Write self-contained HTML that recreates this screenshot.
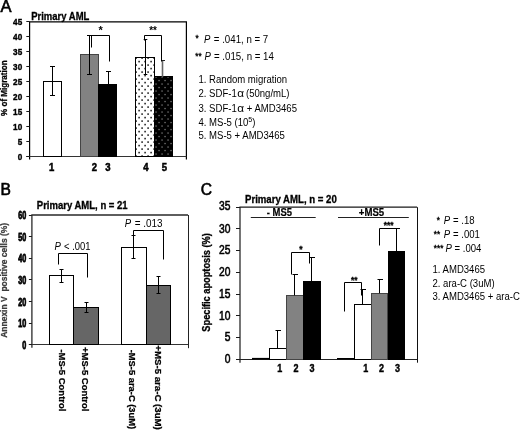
<!DOCTYPE html>
<html><head><meta charset="utf-8"><title>Figure</title>
<style>
html,body{margin:0;padding:0;background:#fff;}
body{width:520px;height:430px;overflow:hidden;}
svg{display:block;font-family:"Liberation Sans",Arial,sans-serif;}
</style></head><body>
<svg width="520" height="430" viewBox="0 0 520 430">
<defs>
<pattern id="dotsW" x="135" y="57" width="6" height="7" patternUnits="userSpaceOnUse">
<rect width="6" height="7" fill="#fff"/>
<rect x="0.3" y="0.3" width="1.6" height="1.6" fill="#262626"/>
<rect x="3.3" y="3.8" width="1.6" height="1.6" fill="#262626"/>
</pattern>
<pattern id="dotsB" x="155" y="76" width="6" height="7" patternUnits="userSpaceOnUse">
<rect width="6" height="7" fill="#000"/>
<rect x="0.4" y="0.4" width="1.3" height="1.3" fill="#7c7c7c"/>
<rect x="3.4" y="3.9" width="1.3" height="1.3" fill="#7c7c7c"/>
</pattern>
</defs>
<rect width="520" height="430" fill="#fff"/>

<text x="0.4" y="12.2" font-size="16.5" stroke="#000" stroke-width="0.6" >A</text>
<text x="31.2" y="20" font-size="10.6" font-weight="bold" textLength="58.2" lengthAdjust="spacingAndGlyphs" stroke="#000" stroke-width="0.3" >Primary AML</text>
<path d="M29.6 159.5V21.9H186.4V159.5" fill="none" stroke="#000" stroke-width="1.2"/>
<line x1="26.3" y1="156.5" x2="186.4" y2="156.5" stroke="#333" stroke-width="1"/>
<line x1="26.3" y1="156.5" x2="29.6" y2="156.5" stroke="#1a1a1a" stroke-width="1"/>
<text x="22.2" y="159.9" font-size="9.6" font-weight="bold" text-anchor="end" textLength="4.54" lengthAdjust="spacingAndGlyphs" stroke="#000" stroke-width="0.4" >0</text>
<line x1="26.3" y1="141.5" x2="29.6" y2="141.5" stroke="#1a1a1a" stroke-width="1"/>
<text x="22.2" y="144.9" font-size="9.6" font-weight="bold" text-anchor="end" textLength="4.54" lengthAdjust="spacingAndGlyphs" stroke="#000" stroke-width="0.4" >5</text>
<line x1="26.3" y1="126.5" x2="29.6" y2="126.5" stroke="#1a1a1a" stroke-width="1"/>
<text x="22.2" y="130.0" font-size="9.6" font-weight="bold" text-anchor="end" textLength="9.08" lengthAdjust="spacingAndGlyphs" stroke="#000" stroke-width="0.4" >10</text>
<line x1="26.3" y1="111.5" x2="29.6" y2="111.5" stroke="#1a1a1a" stroke-width="1"/>
<text x="22.2" y="115.0" font-size="9.6" font-weight="bold" text-anchor="end" textLength="9.08" lengthAdjust="spacingAndGlyphs" stroke="#000" stroke-width="0.4" >15</text>
<line x1="26.3" y1="96.5" x2="29.6" y2="96.5" stroke="#1a1a1a" stroke-width="1"/>
<text x="22.2" y="100.1" font-size="9.6" font-weight="bold" text-anchor="end" textLength="9.08" lengthAdjust="spacingAndGlyphs" stroke="#000" stroke-width="0.4" >20</text>
<line x1="26.3" y1="81.5" x2="29.6" y2="81.5" stroke="#1a1a1a" stroke-width="1"/>
<text x="22.2" y="85.1" font-size="9.6" font-weight="bold" text-anchor="end" textLength="9.08" lengthAdjust="spacingAndGlyphs" stroke="#000" stroke-width="0.4" >25</text>
<line x1="26.3" y1="66.5" x2="29.6" y2="66.5" stroke="#1a1a1a" stroke-width="1"/>
<text x="22.2" y="70.2" font-size="9.6" font-weight="bold" text-anchor="end" textLength="9.08" lengthAdjust="spacingAndGlyphs" stroke="#000" stroke-width="0.4" >30</text>
<line x1="26.3" y1="51.5" x2="29.6" y2="51.5" stroke="#1a1a1a" stroke-width="1"/>
<text x="22.2" y="55.2" font-size="9.6" font-weight="bold" text-anchor="end" textLength="9.08" lengthAdjust="spacingAndGlyphs" stroke="#000" stroke-width="0.4" >35</text>
<line x1="26.3" y1="36.5" x2="29.6" y2="36.5" stroke="#1a1a1a" stroke-width="1"/>
<text x="22.2" y="40.3" font-size="9.6" font-weight="bold" text-anchor="end" textLength="9.08" lengthAdjust="spacingAndGlyphs" stroke="#000" stroke-width="0.4" >40</text>
<line x1="26.3" y1="21.5" x2="29.6" y2="21.5" stroke="#1a1a1a" stroke-width="1"/>
<text x="22.2" y="25.3" font-size="9.6" font-weight="bold" text-anchor="end" textLength="9.08" lengthAdjust="spacingAndGlyphs" stroke="#000" stroke-width="0.4" >45</text>
<text x="7.2" y="88.2" font-size="9" font-weight="bold" text-anchor="middle" textLength="55.5" lengthAdjust="spacingAndGlyphs" stroke="#000" stroke-width="0.3" transform="rotate(-90 7.2 88.2)" >% of Migration</text>
<rect x="43.5" y="81.5" width="18.0" height="75.0" fill="#fff" stroke="#000" stroke-width="1"/>
<line x1="52.5" y1="66.8" x2="52.5" y2="95.8" stroke="#000" stroke-width="1"/>
<line x1="50.0" y1="66.5" x2="55.0" y2="66.5" stroke="#000" stroke-width="1"/>
<line x1="50.0" y1="95.5" x2="55.0" y2="95.5" stroke="#000" stroke-width="1"/>
<rect x="80.5" y="54.5" width="18.0" height="102.0" fill="#828282" stroke="#444" stroke-width="1"/>
<rect x="98.5" y="84.5" width="18.0" height="72.0" fill="#000" stroke="#000" stroke-width="1"/>
<line x1="89.5" y1="35.4" x2="89.5" y2="74.2" stroke="#000" stroke-width="1"/>
<line x1="87.0" y1="35.5" x2="92.0" y2="35.5" stroke="#000" stroke-width="1"/>
<line x1="87.0" y1="74.5" x2="92.0" y2="74.5" stroke="#000" stroke-width="1"/>
<line x1="108.5" y1="71.3" x2="108.5" y2="84.7" stroke="#000" stroke-width="1"/>
<line x1="106.0" y1="71.5" x2="111.0" y2="71.5" stroke="#000" stroke-width="1"/>
<rect x="135.5" y="57.5" width="19.0" height="99.0" fill="url(#dotsW)" stroke="#000" stroke-width="1"/>
<rect x="154.5" y="76.5" width="18.0" height="80.0" fill="url(#dotsB)" stroke="#000" stroke-width="1"/>
<line x1="145.5" y1="39.8" x2="145.5" y2="74.8" stroke="#000" stroke-width="1"/>
<line x1="143.7" y1="39.5" x2="147.3" y2="39.5" stroke="#000" stroke-width="1"/>
<line x1="143.7" y1="74.5" x2="147.3" y2="74.5" stroke="#000" stroke-width="1"/>
<line x1="162.5" y1="60.8" x2="162.5" y2="76.9" stroke="#666" stroke-width="1.6"/>
<line x1="161" y1="60.5" x2="165" y2="60.5" stroke="#222" stroke-width="1"/>
<path d="M91.5 47.5V35.5H109.5V61.5" fill="none" stroke="#000" stroke-width="1"/>
<path d="M144.5 40.5V35.5H161.5V61.5" fill="none" stroke="#000" stroke-width="1"/>
<text x="100.7" y="34" font-size="11" font-weight="bold" text-anchor="middle" >*</text>
<text x="153" y="34" font-size="11" font-weight="bold" text-anchor="middle" textLength="7.7" lengthAdjust="spacingAndGlyphs" >**</text>
<text x="51.7" y="171.3" font-size="10" font-weight="bold" text-anchor="middle" textLength="5.28" lengthAdjust="spacingAndGlyphs" stroke="#000" stroke-width="0.5" >1</text>
<text x="94.3" y="171.3" font-size="10" font-weight="bold" text-anchor="middle" textLength="5.28" lengthAdjust="spacingAndGlyphs" stroke="#000" stroke-width="0.5" >2</text>
<text x="108" y="171.3" font-size="10" font-weight="bold" text-anchor="middle" textLength="5.28" lengthAdjust="spacingAndGlyphs" stroke="#000" stroke-width="0.5" >3</text>
<text x="146" y="171.3" font-size="10" font-weight="bold" text-anchor="middle" textLength="5.28" lengthAdjust="spacingAndGlyphs" stroke="#000" stroke-width="0.5" >4</text>
<text x="164.5" y="171.3" font-size="10" font-weight="bold" text-anchor="middle" textLength="5.28" lengthAdjust="spacingAndGlyphs" stroke="#000" stroke-width="0.5" >5</text>
<text x="195.6" y="41.3" font-size="8.2" stroke="#000" stroke-width="0.35" >*</text>
<text x="204" y="42.8" font-size="10" font-style="italic" textLength="6.37" lengthAdjust="spacingAndGlyphs" >P</text>
<text x="213.8" y="42.8" font-size="10" textLength="54.47" lengthAdjust="spacingAndGlyphs" >= .041, n = 7</text>
<text x="195.3" y="58.5" font-size="8.2" textLength="6.38" lengthAdjust="spacingAndGlyphs" stroke="#000" stroke-width="0.35" >**</text>
<text x="204.5" y="60" font-size="10" font-style="italic" textLength="6.37" lengthAdjust="spacingAndGlyphs" >P</text>
<text x="214" y="60" font-size="10" textLength="59.87" lengthAdjust="spacingAndGlyphs" >= .015, n = 14</text>
<text x="198.5" y="83" font-size="10" textLength="88.65" lengthAdjust="spacingAndGlyphs" >1. Random migration</text>
<text x="198.5" y="97.3" font-size="10" textLength="38.21" lengthAdjust="spacingAndGlyphs" >2. SDF-1</text>
<text x="237.3" y="97.3" font-size="10.5" textLength="6.8" lengthAdjust="spacingAndGlyphs" >&#945;</text>
<text x="246" y="97.3" font-size="10" textLength="43.53" lengthAdjust="spacingAndGlyphs" >(50ng/mL)</text>
<text x="198.5" y="111.5" font-size="10" textLength="38.21" lengthAdjust="spacingAndGlyphs" >3. SDF-1</text>
<text x="237.3" y="111.5" font-size="10.5" textLength="6.8" lengthAdjust="spacingAndGlyphs" >&#945;</text>
<text x="246.8" y="111.5" font-size="10" textLength="50.17" lengthAdjust="spacingAndGlyphs" >+ AMD3465</text>
<text x="198.5" y="125.5" font-size="10" textLength="57" lengthAdjust="spacingAndGlyphs" >4. MS-5 (10<tspan font-size="7.5" dy="-3.2">5</tspan><tspan dy="3.2">)</tspan></text>
<text x="198.5" y="139.3" font-size="10" textLength="86.26" lengthAdjust="spacingAndGlyphs" >5. MS-5 + AMD3465</text>
<text x="0.5" y="194.6" font-size="15.6" stroke="#000" stroke-width="0.6" >B</text>
<text x="36.8" y="209" font-size="10" font-weight="bold" textLength="90.8" lengthAdjust="spacingAndGlyphs" stroke="#000" stroke-width="0.3" >Primary AML, n = 21</text>
<path d="M31.9 347.7V215.0H188.0" fill="none" stroke="#2a2a2a" stroke-width="1.3"/>
<line x1="188.5" y1="215.0" x2="188.5" y2="348.2" stroke="#222" stroke-width="1"/>
<line x1="28.9" y1="344.5" x2="188.0" y2="344.5" stroke="#333" stroke-width="1"/>
<line x1="28.9" y1="344.5" x2="31.9" y2="344.5" stroke="#1a1a1a" stroke-width="1"/>
<text x="26.3" y="348.9" font-size="10.3" font-weight="bold" text-anchor="end" textLength="4.01" lengthAdjust="spacingAndGlyphs" stroke="#000" stroke-width="0.8" >0</text>
<line x1="28.9" y1="323.5" x2="31.9" y2="323.5" stroke="#1a1a1a" stroke-width="1"/>
<text x="26.3" y="327.3" font-size="10.3" font-weight="bold" text-anchor="end" textLength="8.02" lengthAdjust="spacingAndGlyphs" stroke="#000" stroke-width="0.8" >10</text>
<line x1="28.9" y1="301.5" x2="31.9" y2="301.5" stroke="#1a1a1a" stroke-width="1"/>
<text x="26.3" y="305.7" font-size="10.3" font-weight="bold" text-anchor="end" textLength="8.02" lengthAdjust="spacingAndGlyphs" stroke="#000" stroke-width="0.8" >20</text>
<line x1="28.9" y1="279.5" x2="31.9" y2="279.5" stroke="#1a1a1a" stroke-width="1"/>
<text x="26.3" y="284.1" font-size="10.3" font-weight="bold" text-anchor="end" textLength="8.02" lengthAdjust="spacingAndGlyphs" stroke="#000" stroke-width="0.8" >30</text>
<line x1="28.9" y1="258.5" x2="31.9" y2="258.5" stroke="#1a1a1a" stroke-width="1"/>
<text x="26.3" y="262.4" font-size="10.3" font-weight="bold" text-anchor="end" textLength="8.02" lengthAdjust="spacingAndGlyphs" stroke="#000" stroke-width="0.8" >40</text>
<line x1="28.9" y1="236.5" x2="31.9" y2="236.5" stroke="#1a1a1a" stroke-width="1"/>
<text x="26.3" y="240.8" font-size="10.3" font-weight="bold" text-anchor="end" textLength="8.02" lengthAdjust="spacingAndGlyphs" stroke="#000" stroke-width="0.8" >50</text>
<line x1="28.9" y1="215.5" x2="31.9" y2="215.5" stroke="#1a1a1a" stroke-width="1"/>
<text x="26.3" y="219.2" font-size="10.3" font-weight="bold" text-anchor="end" textLength="8.02" lengthAdjust="spacingAndGlyphs" stroke="#000" stroke-width="0.8" >60</text>
<text x="7.4" y="280.3" font-size="8.5" font-weight="bold" text-anchor="middle" textLength="115" lengthAdjust="spacingAndGlyphs" fill="#3c3c3c" stroke="#3c3c3c" stroke-width="0.25" transform="rotate(-90 7.4 280.3)" xml:space="preserve" style="white-space:pre">Annexin V  positive cells (%)</text>
<rect x="49.5" y="275.5" width="24.0" height="69.0" fill="#fff" stroke="#000" stroke-width="1"/>
<rect x="73.5" y="307.5" width="25.0" height="37.0" fill="#666" stroke="#000" stroke-width="1"/>
<rect x="121.5" y="247.5" width="25.0" height="97.0" fill="#fff" stroke="#000" stroke-width="1"/>
<rect x="146.5" y="285.5" width="24.0" height="59.0" fill="#666" stroke="#000" stroke-width="1"/>
<line x1="61.5" y1="269.0" x2="61.5" y2="282.0" stroke="#000" stroke-width="1"/>
<line x1="59.5" y1="269.5" x2="63.5" y2="269.5" stroke="#000" stroke-width="1"/>
<line x1="59.5" y1="282.5" x2="63.5" y2="282.5" stroke="#000" stroke-width="1"/>
<line x1="86.5" y1="302.3" x2="86.5" y2="312.3" stroke="#000" stroke-width="1"/>
<line x1="84.5" y1="302.5" x2="88.5" y2="302.5" stroke="#000" stroke-width="1"/>
<line x1="84.5" y1="312.5" x2="88.5" y2="312.5" stroke="#000" stroke-width="1"/>
<line x1="133.5" y1="235.5" x2="133.5" y2="258.7" stroke="#000" stroke-width="1"/>
<line x1="131.5" y1="235.5" x2="135.5" y2="235.5" stroke="#000" stroke-width="1"/>
<line x1="131.5" y1="258.5" x2="135.5" y2="258.5" stroke="#000" stroke-width="1"/>
<line x1="158.5" y1="276.6" x2="158.5" y2="293.9" stroke="#000" stroke-width="1"/>
<line x1="156.5" y1="276.5" x2="160.5" y2="276.5" stroke="#000" stroke-width="1"/>
<line x1="156.5" y1="293.5" x2="160.5" y2="293.5" stroke="#000" stroke-width="1"/>
<path d="M58.5 264.5V253.5H87.5V277.5" fill="none" stroke="#000" stroke-width="1"/>
<path d="M133.5 235.5V230.5H163.5V259.5" fill="none" stroke="#000" stroke-width="1"/>
<text x="54.6" y="250.3" font-size="10" font-style="italic" textLength="6.37" lengthAdjust="spacingAndGlyphs" >P</text>
<text x="64" y="250.3" font-size="10" textLength="26.5" lengthAdjust="spacingAndGlyphs" >&lt; .001</text>
<text x="124.8" y="227.2" font-size="10" font-style="italic" textLength="6.37" lengthAdjust="spacingAndGlyphs" >P</text>
<text x="134.7" y="227.2" font-size="10" textLength="27.8" lengthAdjust="spacingAndGlyphs" >= .013</text>
<text x="58.7" y="349.4" font-size="9.2" font-weight="bold" textLength="62" lengthAdjust="spacingAndGlyphs" stroke="#000" stroke-width="0.25" transform="rotate(90 58.7 349.4)" >-MS-5 Control</text>
<text x="82.2" y="347" font-size="9.2" font-weight="bold" textLength="64.5" lengthAdjust="spacingAndGlyphs" stroke="#000" stroke-width="0.25" transform="rotate(90 82.2 347)" >+MS-5 Control</text>
<text x="129" y="349.7" font-size="9.2" font-weight="bold" textLength="79.5" lengthAdjust="spacingAndGlyphs" stroke="#000" stroke-width="0.25" transform="rotate(90 129 349.7)" >-MS-5 ara-C (3uM)</text>
<text x="155" y="345.3" font-size="9.2" font-weight="bold" textLength="84.5" lengthAdjust="spacingAndGlyphs" stroke="#000" stroke-width="0.25" transform="rotate(90 155 345.3)" >+MS-5 ara-C (3uM)</text>
<text x="200.8" y="195.4" font-size="15.6" stroke="#000" stroke-width="0.6" >C</text>
<text x="245" y="202.9" font-size="10" font-weight="bold" textLength="91.8" lengthAdjust="spacingAndGlyphs" stroke="#000" stroke-width="0.3" >Primary AML, n = 20</text>
<path d="M240.0 362.7V207.2H417.1" fill="none" stroke="#1a1a1a" stroke-width="1.2"/>
<line x1="417.5" y1="207.2" x2="417.5" y2="362.7" stroke="#111" stroke-width="1"/>
<line x1="237.0" y1="359.5" x2="417.1" y2="359.5" stroke="#222" stroke-width="1"/>
<line x1="236.0" y1="359.5" x2="240.0" y2="359.5" stroke="#1a1a1a" stroke-width="1"/>
<text x="230.4" y="362.9" font-size="13" text-anchor="end" textLength="5.71" lengthAdjust="spacingAndGlyphs" stroke="#000" stroke-width="0.6" >0</text>
<line x1="236.0" y1="337.5" x2="240.0" y2="337.5" stroke="#1a1a1a" stroke-width="1"/>
<text x="230.4" y="341.2" font-size="13" text-anchor="end" textLength="5.71" lengthAdjust="spacingAndGlyphs" stroke="#000" stroke-width="0.6" >5</text>
<line x1="236.0" y1="315.5" x2="240.0" y2="315.5" stroke="#1a1a1a" stroke-width="1"/>
<text x="230.4" y="319.5" font-size="13" text-anchor="end" textLength="11.42" lengthAdjust="spacingAndGlyphs" stroke="#000" stroke-width="0.6" >10</text>
<line x1="236.0" y1="294.5" x2="240.0" y2="294.5" stroke="#1a1a1a" stroke-width="1"/>
<text x="230.4" y="297.8" font-size="13" text-anchor="end" textLength="11.42" lengthAdjust="spacingAndGlyphs" stroke="#000" stroke-width="0.6" >15</text>
<line x1="236.0" y1="272.5" x2="240.0" y2="272.5" stroke="#1a1a1a" stroke-width="1"/>
<text x="230.4" y="276.0" font-size="13" text-anchor="end" textLength="11.42" lengthAdjust="spacingAndGlyphs" stroke="#000" stroke-width="0.6" >20</text>
<line x1="236.0" y1="250.5" x2="240.0" y2="250.5" stroke="#1a1a1a" stroke-width="1"/>
<text x="230.4" y="254.3" font-size="13" text-anchor="end" textLength="11.42" lengthAdjust="spacingAndGlyphs" stroke="#000" stroke-width="0.6" >25</text>
<line x1="236.0" y1="228.5" x2="240.0" y2="228.5" stroke="#1a1a1a" stroke-width="1"/>
<text x="230.4" y="232.6" font-size="13" text-anchor="end" textLength="11.42" lengthAdjust="spacingAndGlyphs" stroke="#000" stroke-width="0.6" >30</text>
<line x1="236.0" y1="207.5" x2="240.0" y2="207.5" stroke="#1a1a1a" stroke-width="1"/>
<text x="230.4" y="209.7" font-size="13" text-anchor="end" textLength="11.42" lengthAdjust="spacingAndGlyphs" stroke="#000" stroke-width="0.6" >35</text>
<text x="209.8" y="282.4" font-size="10" font-weight="bold" text-anchor="middle" textLength="98.5" lengthAdjust="spacingAndGlyphs" stroke="#000" stroke-width="0.3" transform="rotate(-90 209.8 282.4)" >Specific apoptosis (%)</text>
<text x="266.8" y="215.8" font-size="10.4" font-weight="bold" textLength="25.2" lengthAdjust="spacingAndGlyphs" stroke="#000" stroke-width="0.2" >- MS5</text>
<text x="358.8" y="215.6" font-size="10.4" font-weight="bold" textLength="25.4" lengthAdjust="spacingAndGlyphs" stroke="#000" stroke-width="0.2" >+MS5</text>
<line x1="250.8" y1="217.5" x2="315.7" y2="217.5" stroke="#222" stroke-width="1"/>
<line x1="338" y1="217.5" x2="408.8" y2="217.5" stroke="#222" stroke-width="1"/>
<rect x="252" y="357.9" width="17.5" height="1.6" fill="#000"/>
<rect x="269.5" y="348.5" width="17.0" height="11.0" fill="#fff" stroke="#000" stroke-width="1"/>
<rect x="286.5" y="295.5" width="17.0" height="64.0" fill="#828282" stroke="#444" stroke-width="1"/>
<rect x="303.5" y="281.5" width="17.0" height="78.0" fill="#000" stroke="#000" stroke-width="1"/>
<line x1="277.5" y1="330.1" x2="277.5" y2="348.3" stroke="#000" stroke-width="1"/>
<line x1="275.5" y1="330.5" x2="281.0" y2="330.5" stroke="#000" stroke-width="1"/>
<line x1="294.5" y1="274.1" x2="294.5" y2="295.4" stroke="#000" stroke-width="1"/>
<line x1="292.5" y1="274.5" x2="298.0" y2="274.5" stroke="#000" stroke-width="1"/>
<line x1="311.5" y1="257.1" x2="311.5" y2="281.5" stroke="#000" stroke-width="1"/>
<line x1="309.5" y1="257.5" x2="315.0" y2="257.5" stroke="#000" stroke-width="1"/>
<path d="M291.5 274.5V252.5H309.5V263.5" fill="none" stroke="#000" stroke-width="1"/>
<text x="300.8" y="252.3" font-size="8.5" font-weight="bold" text-anchor="middle" stroke="#000" stroke-width="0.3" >*</text>
<rect x="337" y="358" width="17.5" height="1.5" fill="#000"/>
<rect x="354.5" y="304.5" width="17.0" height="55.0" fill="#fff" stroke="#000" stroke-width="1"/>
<rect x="371.5" y="293.5" width="16.0" height="66.0" fill="#828282" stroke="#444" stroke-width="1"/>
<rect x="388.5" y="251.5" width="16.0" height="108.0" fill="#000" stroke="#000" stroke-width="1"/>
<line x1="362.5" y1="289.3" x2="362.5" y2="304.0" stroke="#000" stroke-width="1"/>
<line x1="360.5" y1="289.5" x2="366.0" y2="289.5" stroke="#000" stroke-width="1"/>
<line x1="379.5" y1="279.7" x2="379.5" y2="293.2" stroke="#000" stroke-width="1"/>
<line x1="377.5" y1="279.5" x2="383.0" y2="279.5" stroke="#000" stroke-width="1"/>
<line x1="396.5" y1="228.9" x2="396.5" y2="251.5" stroke="#000" stroke-width="1"/>
<line x1="394.5" y1="228.5" x2="400.0" y2="228.5" stroke="#000" stroke-width="1"/>
<path d="M344.5 311.5V282.5H361.5V295.5" fill="none" stroke="#000" stroke-width="1"/>
<path d="M379.5 245.5V228.5H396.5" fill="none" stroke="#000" stroke-width="1"/>
<text x="354.3" y="282.6" font-size="9" font-weight="bold" text-anchor="middle" textLength="6.44" lengthAdjust="spacingAndGlyphs" stroke="#000" stroke-width="0.3" >**</text>
<text x="388.7" y="227.6" font-size="9" font-weight="bold" text-anchor="middle" textLength="9.67" lengthAdjust="spacingAndGlyphs" stroke="#000" stroke-width="0.3" >***</text>
<text x="279.8" y="371.6" font-size="10" font-weight="bold" text-anchor="middle" textLength="5.01" lengthAdjust="spacingAndGlyphs" stroke="#000" stroke-width="0.4" >1</text>
<text x="296" y="371.6" font-size="10" font-weight="bold" text-anchor="middle" textLength="5.01" lengthAdjust="spacingAndGlyphs" stroke="#000" stroke-width="0.4" >2</text>
<text x="312" y="371.6" font-size="10" font-weight="bold" text-anchor="middle" textLength="5.01" lengthAdjust="spacingAndGlyphs" stroke="#000" stroke-width="0.4" >3</text>
<text x="365.7" y="371.6" font-size="10" font-weight="bold" text-anchor="middle" textLength="5.01" lengthAdjust="spacingAndGlyphs" stroke="#000" stroke-width="0.4" >1</text>
<text x="381.6" y="371.6" font-size="10" font-weight="bold" text-anchor="middle" textLength="5.01" lengthAdjust="spacingAndGlyphs" stroke="#000" stroke-width="0.4" >2</text>
<text x="397.4" y="371.6" font-size="10" font-weight="bold" text-anchor="middle" textLength="5.01" lengthAdjust="spacingAndGlyphs" stroke="#000" stroke-width="0.4" >3</text>
<text x="436.8" y="222.6" font-size="8.2" stroke="#000" stroke-width="0.35" >*</text>
<text x="443.7" y="223.8" font-size="10" font-style="italic" textLength="6.37" lengthAdjust="spacingAndGlyphs" >P</text>
<text x="453" y="223.8" font-size="10" textLength="21.51" lengthAdjust="spacingAndGlyphs" >= .18</text>
<text x="433.8" y="236.6" font-size="8.2" textLength="6.38" lengthAdjust="spacingAndGlyphs" stroke="#000" stroke-width="0.35" >**</text>
<text x="443.7" y="237.8" font-size="10" font-style="italic" textLength="6.37" lengthAdjust="spacingAndGlyphs" >P</text>
<text x="453" y="237.8" font-size="10" textLength="26.82" lengthAdjust="spacingAndGlyphs" >= .001</text>
<text x="433.8" y="250.6" font-size="8.2" textLength="9.57" lengthAdjust="spacingAndGlyphs" stroke="#000" stroke-width="0.35" >***</text>
<text x="445.5" y="251.8" font-size="10" font-style="italic" textLength="6.37" lengthAdjust="spacingAndGlyphs" >P</text>
<text x="454.5" y="251.8" font-size="10" textLength="26.82" lengthAdjust="spacingAndGlyphs" >= .004</text>
<text x="432.5" y="272.6" font-size="10" textLength="52.56" lengthAdjust="spacingAndGlyphs" >1. AMD3465</text>
<text x="432.5" y="286.5" font-size="10" textLength="62.09" lengthAdjust="spacingAndGlyphs" >2. ara-C (3uM)</text>
<text x="432.5" y="299.8" font-size="10" textLength="87.32" lengthAdjust="spacingAndGlyphs" >3. AMD3465 + ara-C</text>
</svg></body></html>
